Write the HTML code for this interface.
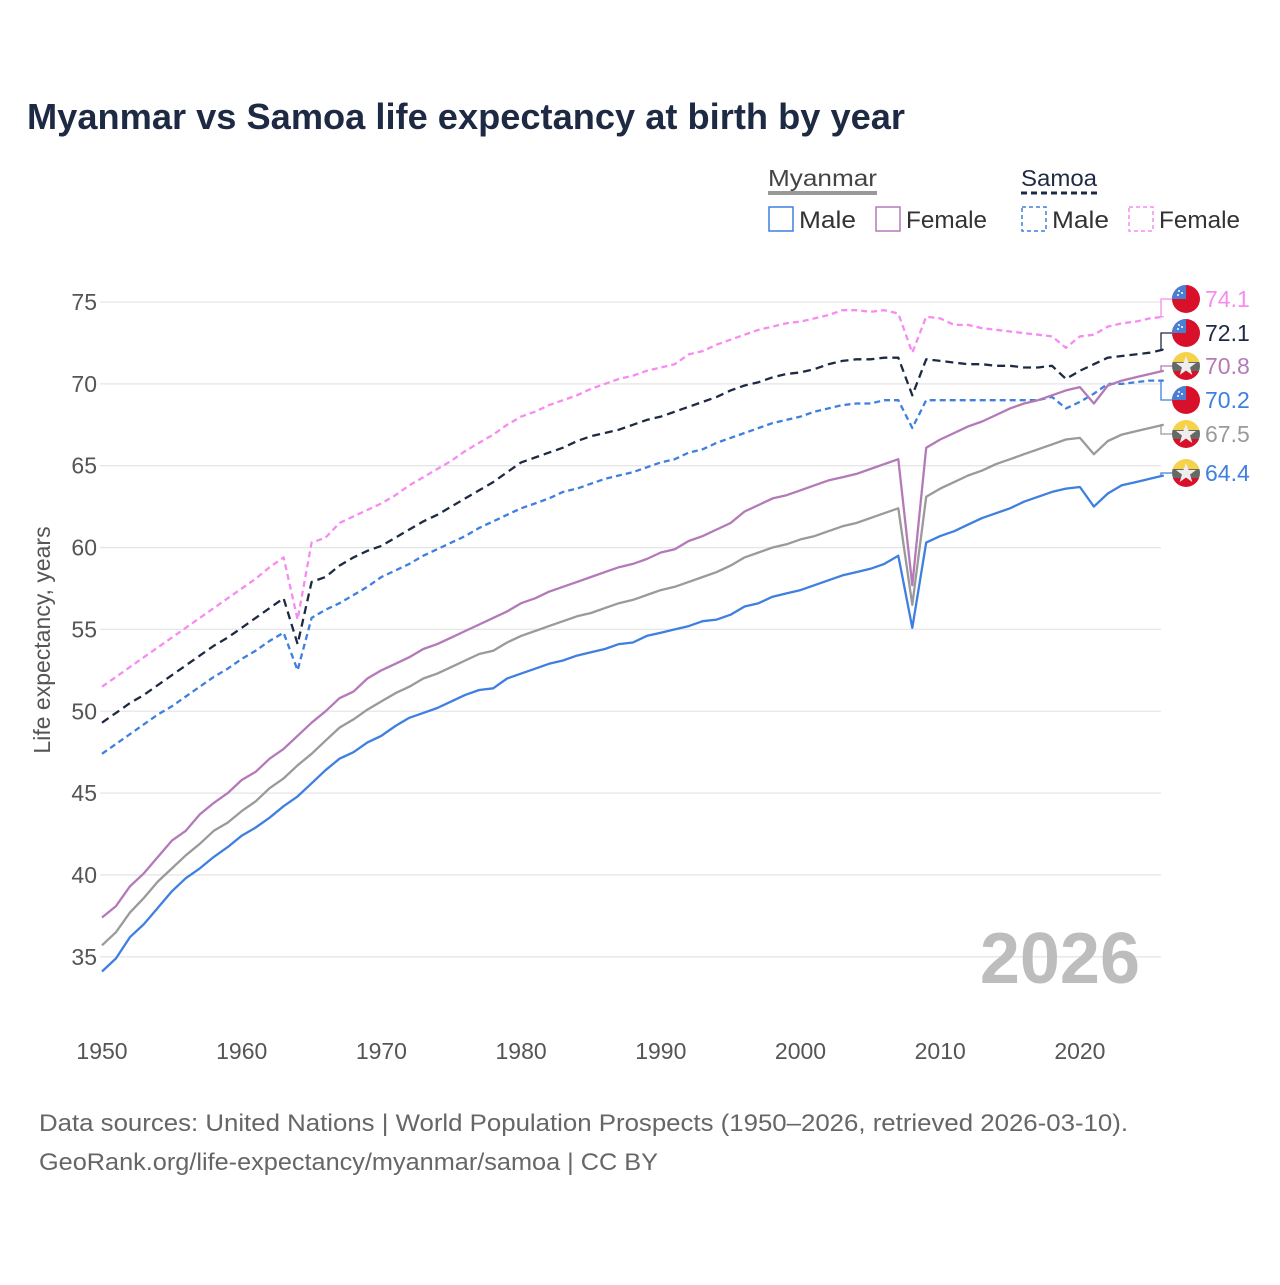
<!DOCTYPE html>
<html><head><meta charset="utf-8">
<style>
body{margin:0;background:#fff;font-family:"Liberation Sans",sans-serif;}
svg text{font-family:"Liberation Sans",sans-serif;}
</style></head>
<body>
<svg id="chart" width="1280" height="1280" viewBox="0 0 1280 1280" xmlns="http://www.w3.org/2000/svg">
<rect width="1280" height="1280" fill="#fff"/>
<text x="27" y="129" font-size="36" font-weight="bold" fill="#1e2a44" textLength="878" lengthAdjust="spacingAndGlyphs">Myanmar vs Samoa life expectancy at birth by year</text>
<g>
<text x="768" y="186" font-size="23" fill="#444" textLength="109" lengthAdjust="spacingAndGlyphs">Myanmar</text>
<line x1="768" y1="193" x2="877" y2="193" stroke="#999" stroke-width="4"/>
<text x="1021" y="186" font-size="23" fill="#1e2a44" textLength="76" lengthAdjust="spacingAndGlyphs">Samoa</text>
<line x1="1021" y1="193" x2="1097" y2="193" stroke="#1e2a44" stroke-width="3" stroke-dasharray="6,4"/>
<g><rect x="769" y="207" width="24" height="24" fill="none" stroke="#3f7fe0" stroke-width="1.5"/><text x="799" y="228" font-size="24" fill="#333" textLength="57" lengthAdjust="spacingAndGlyphs">Male</text></g>
<g><rect x="876" y="207" width="24" height="24" fill="none" stroke="#b47ab8" stroke-width="1.5"/><text x="906" y="228" font-size="24" fill="#333" textLength="81" lengthAdjust="spacingAndGlyphs">Female</text></g>
<g><rect x="1022" y="207" width="24" height="24" fill="none" stroke="#3f7fe0" stroke-width="1.5" stroke-dasharray="4,3"/><text x="1052" y="228" font-size="24" fill="#333" textLength="57" lengthAdjust="spacingAndGlyphs">Male</text></g>
<g><rect x="1129" y="207" width="24" height="24" fill="none" stroke="#f78cf0" stroke-width="1.5" stroke-dasharray="4,3"/><text x="1159" y="228" font-size="24" fill="#333" textLength="81" lengthAdjust="spacingAndGlyphs">Female</text></g>
</g>
<g id="grid"></g>
<g id="axes"></g>
<text x="1140" y="983" text-anchor="end" font-size="72" font-weight="bold" fill="#bdbdbd">2026</text>
<g id="series"></g>
<g id="endlabels"></g>
<text transform="translate(50,640) rotate(-90)" text-anchor="middle" font-size="23" fill="#555">Life expectancy, years</text>
<text x="39" y="1131" font-size="24" fill="#666" textLength="1089" lengthAdjust="spacingAndGlyphs">Data sources: United Nations | World Population Prospects (1950–2026, retrieved 2026-03-10).</text>
<text x="39" y="1170" font-size="24" fill="#666" textLength="619" lengthAdjust="spacingAndGlyphs">GeoRank.org/life-expectancy/myanmar/samoa | CC BY</text>
<defs><clipPath id="fc"><circle cx="0" cy="0" r="14"/></clipPath></defs>
</svg>
<script>
const startYear = 1950;
const yTicks = [35,40,45,50,55,60,65,70,75];
const xTicks = [1950,1960,1970,1980,1990,2000,2010,2020];
const mmMale = [34.1,34.9,36.2,37.0,38.0,39.0,39.8,40.4,41.1,41.7,
42.4,42.9,43.5,44.2,44.8,45.6,46.4,47.1,47.5,48.1,
48.5,49.1,49.6,49.9,50.2,50.6,51.0,51.3,51.4,52.0,
52.3,52.6,52.9,53.1,53.4,53.6,53.8,54.1,54.2,54.6,
54.8,55.0,55.2,55.5,55.6,55.9,56.4,56.6,57.0,57.2,
57.4,57.7,58.0,58.3,58.5,58.7,59.0,59.5,55.1,60.3,
60.7,61.0,61.4,61.8,62.1,62.4,62.8,63.1,63.4,63.6,
63.7,62.5,63.3,63.8,64.0,64.2,64.4];
const mmAll = [35.7,36.5,37.7,38.6,39.6,40.4,41.2,41.9,42.7,43.2,
43.9,44.5,45.3,45.9,46.7,47.4,48.2,49.0,49.5,50.1,
50.6,51.1,51.5,52.0,52.3,52.7,53.1,53.5,53.7,54.2,
54.6,54.9,55.2,55.5,55.8,56.0,56.3,56.6,56.8,57.1,
57.4,57.6,57.9,58.2,58.5,58.9,59.4,59.7,60.0,60.2,
60.5,60.7,61.0,61.3,61.5,61.8,62.1,62.4,56.5,63.1,
63.6,64.0,64.4,64.7,65.1,65.4,65.7,66.0,66.3,66.6,
66.7,65.7,66.5,66.9,67.1,67.3,67.5];
const mmFemale = [37.4,38.1,39.3,40.1,41.1,42.1,42.7,43.7,44.4,45.0,
45.8,46.3,47.1,47.7,48.5,49.3,50.0,50.8,51.2,52.0,
52.5,52.9,53.3,53.8,54.1,54.5,54.9,55.3,55.7,56.1,
56.6,56.9,57.3,57.6,57.9,58.2,58.5,58.8,59.0,59.3,
59.7,59.9,60.4,60.7,61.1,61.5,62.2,62.6,63.0,63.2,
63.5,63.8,64.1,64.3,64.5,64.8,65.1,65.4,57.7,66.1,
66.6,67.0,67.4,67.7,68.1,68.5,68.8,69.0,69.3,69.6,
69.8,68.8,69.9,70.2,70.4,70.6,70.8];
const wsAll = [49.3,49.9,50.5,51.0,51.6,52.2,52.8,53.4,54.0,54.5,
55.1,55.7,56.3,56.9,54.1,57.9,58.2,58.9,59.4,59.8,
60.1,60.6,61.1,61.6,62.0,62.5,63.0,63.5,64.0,64.6,
65.2,65.5,65.8,66.1,66.5,66.8,67.0,67.2,67.5,67.8,
68.0,68.3,68.6,68.9,69.2,69.6,69.9,70.1,70.4,70.6,
70.7,70.9,71.2,71.4,71.5,71.5,71.6,71.6,69.3,71.5,
71.4,71.3,71.2,71.2,71.1,71.1,71.0,71.0,71.1,70.3,
70.8,71.2,71.6,71.7,71.8,71.9,72.1];
const wsFemale = [51.5,52.1,52.7,53.3,53.9,54.5,55.1,55.7,56.3,56.9,
57.5,58.1,58.8,59.4,55.6,60.3,60.6,61.5,61.9,62.3,
62.7,63.2,63.8,64.3,64.8,65.3,65.9,66.4,66.9,67.5,
68.0,68.3,68.7,69.0,69.3,69.7,70.0,70.3,70.5,70.8,
71.0,71.2,71.8,72.0,72.4,72.7,73.0,73.3,73.5,73.7,
73.8,74.0,74.2,74.5,74.5,74.4,74.5,74.3,71.9,74.1,
74.0,73.6,73.6,73.4,73.3,73.2,73.1,73.0,72.9,72.2,
72.9,73.0,73.5,73.7,73.8,74.0,74.1];
const wsMale = [47.4,48.0,48.6,49.2,49.8,50.3,50.9,51.5,52.1,52.6,
53.2,53.7,54.3,54.8,52.5,55.7,56.2,56.6,57.1,57.6,
58.2,58.6,59.0,59.5,59.9,60.3,60.7,61.2,61.6,62.0,
62.4,62.7,63.0,63.4,63.6,63.9,64.2,64.4,64.6,64.9,
65.2,65.4,65.8,66.0,66.4,66.7,67.0,67.3,67.6,67.8,
68.0,68.3,68.5,68.7,68.8,68.8,69.0,69.0,67.3,69.0,
69.0,69.0,69.0,69.0,69.0,69.0,69.0,69.0,69.2,68.5,
68.9,69.4,70.0,70.0,70.1,70.2,70.2];

const NS="http://www.w3.org/2000/svg";
const X0=102, PXY=13.97, Y75=302, PXV=16.37;
function xs(yr){return X0+(yr-1950)*PXY;}
function ys(v){return Y75+(75-v)*PXV;}
function mk(tag,attrs,parent){const e=document.createElementNS(NS,tag);for(const k in attrs)e.setAttribute(k,attrs[k]);parent.appendChild(e);return e;}
const grid=document.getElementById('grid'), axes=document.getElementById('axes');
yTicks.forEach(t=>{
  const l=mk('line',{x1:100,x2:1161,y1:ys(t),y2:ys(t),stroke:'#e6e6e6','stroke-width':1.3},grid);
  
  
  const tx=mk('text',{x:97,y:ys(t)+8,'text-anchor':'end','font-size':23,fill:'#555'},axes);
  tx.textContent=t;
  
  
});
xTicks.forEach(t=>{
  const tx=mk('text',{x:xs(t),y:1059,'text-anchor':'middle','font-size':23,fill:'#555'},axes);
  tx.textContent=t;
  
  
});
const seriesG=document.getElementById('series');
const defs=[
  {d:wsFemale,c:'#f78cf0',dash:'6,4',n:'samoa-female-line'},
  {d:wsAll,c:'#1e2a44',dash:'8,5',n:'samoa-total-line'},
  {d:wsMale,c:'#3f7fe0',dash:'6,4',n:'samoa-male-line'},
  {d:mmFemale,c:'#b47ab8',dash:'',n:'myanmar-female-line'},
  {d:mmAll,c:'#9a9a9a',dash:'',n:'myanmar-total-line'},
  {d:mmMale,c:'#3f7fe0',dash:'',n:'myanmar-male-line'}
];
defs.forEach(s=>{
  const pts=s.d.map((v,i)=>xs(startYear+i).toFixed(1)+','+ys(v).toFixed(1)).join(' ');
  const p=mk('polyline',{points:pts,fill:'none',stroke:s.c,'stroke-width':2.3,'stroke-linejoin':'round'},seriesG);
  if(s.dash)p.setAttribute('stroke-dasharray',s.dash);
  
  
});
const labels=[
  {d:wsFemale,c:'#f78cf0',f:'ws',ly:299},
  {d:wsAll,c:'#1e2a44',f:'ws',ly:333},
  {d:mmFemale,c:'#b47ab8',f:'mm',ly:366},
  {d:wsMale,c:'#3f7fe0',f:'ws',ly:400},
  {d:mmAll,c:'#9a9a9a',f:'mm',ly:434},
  {d:mmMale,c:'#3f7fe0',f:'mm',ly:473}
];
const eg=document.getElementById('endlabels');
labels.forEach(L=>{
  const v=L.d[L.d.length-1];
  const yEnd=ys(v), xEnd=xs(2026);
  const c=mk('polyline',{points:`${xEnd},${yEnd} 1161,${yEnd} 1161,${L.ly} 1172,${L.ly}`,fill:'none',stroke:L.c,'stroke-width':1.3},eg);
  
  
  const g=mk('g',{transform:`translate(1186,${L.ly})`,'clip-path':'url(#fc)'},eg);
  
  
  if(L.f==='ws'){
    mk('rect',{x:-14,y:-14,width:28,height:28,fill:'#d8102a'},g);
    mk('rect',{x:-14,y:-14,width:14,height:14,fill:'#4a7fd6'},g);
    mk('circle',{cx:-7,cy:-8,r:1,fill:'#fff'},g);mk('circle',{cx:-4,cy:-6,r:1,fill:'#fff'},g);mk('circle',{cx:-8,cy:-4,r:1,fill:'#fff'},g);
  } else {
    mk('rect',{x:-14,y:-14,width:28,height:10,fill:'#f6d24a'},g);
    mk('rect',{x:-14,y:-4,width:28,height:9,fill:'#666a66'},g);
    mk('rect',{x:-14,y:5,width:28,height:10,fill:'#d8102a'},g);
    mk('polygon',{points:'0,-10 2.6,-3 10,-3 4,1.5 6.3,9 0,4.5 -6.3,9 -4,1.5 -10,-3 -2.6,-3',fill:'#eee'},g);
  }
  const t=mk('text',{x:1205,y:L.ly+8,'font-size':23,fill:L.c},eg);
  t.textContent=v.toFixed(1);
  
  
});
</script>
</body></html>
